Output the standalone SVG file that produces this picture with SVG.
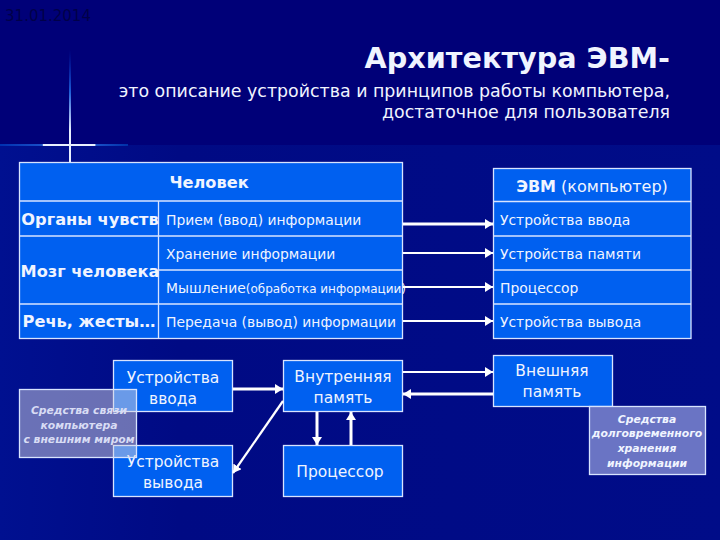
<svg xmlns="http://www.w3.org/2000/svg" width="720" height="540" viewBox="0 0 720 540">
<style>
text{font-family:"DejaVu Sans","Liberation Sans",sans-serif;fill:#f0f4ff;text-anchor:middle}
.box{fill:#0060f0;stroke:#d8e4ff;stroke-width:1.3}
.grid{stroke:#d8e4ff;stroke-width:1.3;fill:none}
.note{stroke:#d8e4ff;stroke-width:1.3}
.l{text-anchor:start;font-size:13.9px}
.b{font-weight:bold;font-size:16.2px}
.c{font-size:15.5px}
.n{font-size:10.8px;font-style:italic;font-weight:bold}
.conn line{stroke:#fff;stroke-width:2.2;marker-end:url(#a)}
</style>
<defs>
<marker id="a" markerUnits="userSpaceOnUse" markerWidth="9" markerHeight="10" refX="8" refY="5" orient="auto"><path d="M0 0L8 5L0 10Z" fill="#fff"/></marker>
<linearGradient id="low" x1="0" y1="0" x2="1" y2="0"><stop offset="0" stop-color="#001090"/><stop offset=".25" stop-color="#000a84"/><stop offset="1" stop-color="#000c88"/></linearGradient>
<linearGradient id="h" x1="0" y1="0" x2="1" y2="0"><stop offset="0" stop-color="#0030b0"/><stop offset=".33" stop-color="#1a50c8"/><stop offset=".34" stop-color="#e8f0ff"/><stop offset=".74" stop-color="#e8f0ff"/><stop offset=".75" stop-color="#1a50c8"/><stop offset="1" stop-color="#0030a8"/></linearGradient>
<linearGradient id="v" x1="0" y1="0" x2="0" y2="1"><stop offset="0" stop-color="#0030c0" stop-opacity="0"/><stop offset=".38" stop-color="#2060d8"/><stop offset=".6" stop-color="#a0b8f0"/><stop offset=".72" stop-color="#e8f0ff"/><stop offset="1" stop-color="#e8f0ff"/></linearGradient>
</defs>
<rect width="720" height="540" fill="#000078"/>
<rect y="145" width="720" height="395" fill="url(#low)"/>
<rect x="0" y="144" width="128" height="2" fill="url(#h)"/>
<rect x="69" y="50" width="2" height="112" fill="url(#v)"/>
<text x="48" y="21" style="font-size:15px;fill:#000048">31.01.2014</text>
<text x="670" y="68" style="text-anchor:end;font-size:28.7px;font-weight:bold">Архитектура ЭВМ-</text>
<text x="670" y="97" style="text-anchor:end;font-size:17.4px">это описание устройства и принципов работы компьютера,</text>
<text x="670" y="118" style="text-anchor:end;font-size:17.4px">достаточное для пользователя</text>
<g id="human-table">
<rect class="box" x="19.5" y="162.5" width="383" height="176"/>
<path class="grid" d="M19.5 201H402.5M19.5 236H402.5M158.5 270H402.5M19.5 304H402.5M158.5 201V338.5"/>
<text class="b" x="209" y="188">Человек</text>
<text class="b" x="90" y="225">Органы чувств</text>
<text class="b" x="90" y="277">Мозг человека</text>
<text class="b" x="89" y="327">Речь, жесты…</text>
<text class="l" x="166" y="225">Прием (ввод) информации</text>
<text class="l" x="166" y="259">Хранение информации</text>
<text class="l" x="166" y="293">Мышление<tspan style="font-size:12px">(обработка информации)</tspan></text>
<text class="l" x="166" y="327">Передача (вывод) информации</text>
</g>
<g id="computer-table">
<rect class="box" x="493.5" y="168.5" width="197.5" height="170"/>
<path class="grid" d="M493.5 201.5H691M493.5 236H691M493.5 270H691M493.5 304H691"/>
<text x="592" y="192" style="font-size:16px"><tspan font-weight="bold">ЭВМ</tspan> (компьютер)</text>
<text class="l" x="500" y="225">Устройства ввода</text>
<text class="l" x="500" y="259">Устройства памяти</text>
<text class="l" x="500" y="293">Процессор</text>
<text class="l" x="500" y="327">Устройства вывода</text>
</g>
<g id="input"><rect class="box" x="113.5" y="360.5" width="119" height="51"/><text class="c" x="173" y="383">Устройства</text><text class="c" x="173" y="404">ввода</text></g>
<g id="output"><rect class="box" x="113.5" y="445.5" width="119" height="51"/><text class="c" x="173" y="467">Устройства</text><text class="c" x="173" y="488">вывода</text></g>
<g id="memory"><rect class="box" x="283.5" y="360.5" width="119" height="51"/><text class="c" x="343" y="382">Внутренняя</text><text class="c" x="343" y="403">память</text></g>
<g id="cpu"><rect class="box" x="283.5" y="445.5" width="119" height="51"/><text class="c" x="340" y="477">Процессор</text></g>
<g id="external"><rect class="box" x="493.5" y="355.5" width="119" height="51"/><text class="c" x="552" y="376">Внешняя</text><text class="c" x="552" y="397">память</text></g>
<g id="note-io"><rect class="note" x="19.5" y="389.5" width="117" height="68" fill="#d4d4e0" fill-opacity=".5"/><text class="n" x="79" y="414" style="fill:#d8dcf4">Средства связи</text><text class="n" x="79" y="429" style="fill:#d8dcf4">компьютера</text><text class="n" x="79" y="443" style="fill:#d8dcf4">с внешним миром</text></g>
<g id="note-storage"><rect class="note" x="589.5" y="406.5" width="116" height="68" fill="#6a74c4"/><text class="n" x="647" y="423">Средства</text><text class="n" x="647" y="437">долговременного</text><text class="n" x="647" y="452">хранения</text><text class="n" x="647" y="467">информации</text></g>
<g id="connectors" class="conn">
<line x1="403" y1="224" x2="493" y2="224" style="stroke-width:3"/>
<line x1="403" y1="253" x2="493" y2="253"/>
<line x1="403" y1="287" x2="493" y2="287"/>
<line x1="403" y1="321" x2="493" y2="321"/>
<line x1="233" y1="389" x2="283" y2="389" style="stroke-width:3"/>
<line x1="283" y1="401" x2="233" y2="473"/>
<line x1="317" y1="412" x2="317" y2="445" style="stroke-width:3"/>
<line x1="351" y1="445" x2="351" y2="412" style="stroke-width:3"/>
<line x1="403" y1="372" x2="493" y2="372"/>
<line x1="493" y1="394" x2="403" y2="394" style="stroke-width:3"/>
</g>
</svg>
